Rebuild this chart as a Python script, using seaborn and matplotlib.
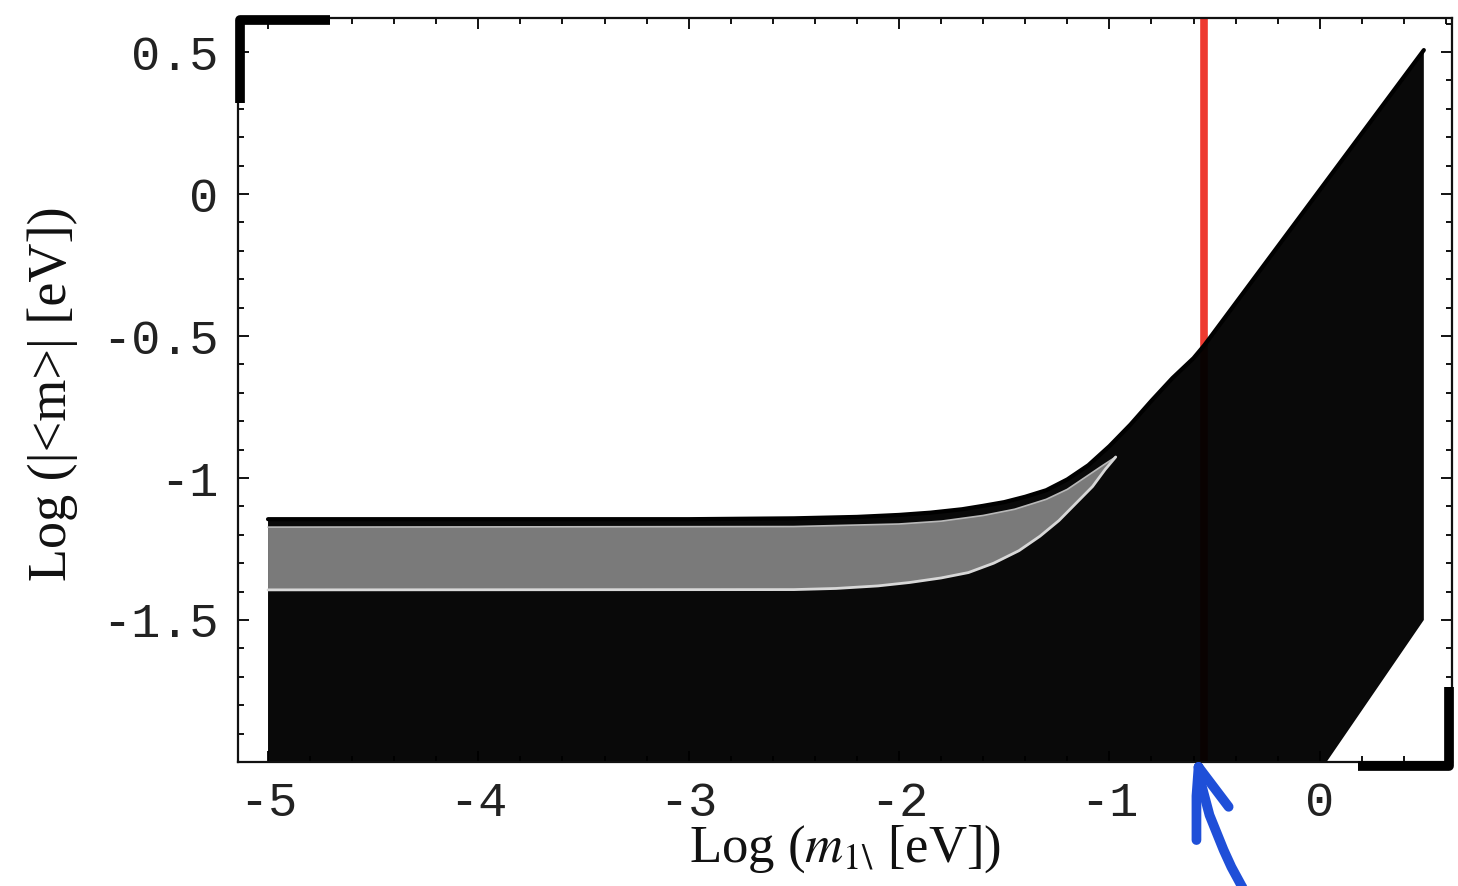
"""
Effective Majorana mass vs lightest neutrino mass (scanned figure look-alike).

Outputs:
  out.png
"""

import matplotlib

matplotlib.use("Agg")
import matplotlib.pyplot as plt
import numpy as np
import pandas as pd
import seaborn as sns

# outer boundary of the allowed (black) region
UPPER_X = [-5.0, -3.0, -2.5, -2.2, -2.0, -1.85, -1.7, -1.6, -1.5, -1.4, -1.3, -1.2,
           -1.1, -1.0, -0.9, -0.8, -0.7, -0.6, -0.548, 0.0, 0.495]
UPPER_Y = [-1.145, -1.145, -1.142, -1.137, -1.13, -1.122, -1.11, -1.098, -1.085, -1.066,
           -1.043, -1.005, -0.955, -0.888, -0.812, -0.728, -0.648, -0.578, -0.532, 0.014, 0.507]
RIGHT_EDGE_X = [0.495, 0.495]
RIGHT_EDGE_Y = [0.507, -1.5]
LOWER_X = [0.495, -0.06, -5.0]
LOWER_Y = [-1.5, -2.1, -2.1]

# grey band inside the black region
BAND_TOP_X = [-5.0, -2.5, -2.0, -1.8, -1.6, -1.45, -1.3, -1.2, -1.1, -1.03, -0.97]
BAND_TOP_Y = [-1.173, -1.171, -1.162, -1.152, -1.132, -1.11, -1.075, -1.04, -0.99, -0.955, -0.926]
BAND_BOT_X = [-5.0, -2.5, -2.3, -2.1, -1.95, -1.8, -1.67, -1.55, -1.43, -1.33, -1.24,
              -1.16, -1.08, -1.02, -0.97]
BAND_BOT_Y = [-1.394, -1.393, -1.389, -1.380, -1.368, -1.352, -1.333, -1.300, -1.256,
              -1.205, -1.150, -1.090, -1.030, -0.970, -0.926]

RED_LINE_X = -0.548

XTICKS = [-5, -4, -3, -2, -1, 0]
XTICK_LABELS = ["-5", "-4", "-3", "-2", "-1", "0"]
YTICKS = [-1.5, -1.0, -0.5, 0.0, 0.5]
YTICK_LABELS = ["-1.5", "-1", "-0.5", "0", "0.5"]
XLIM = (-5.143, 0.629)
YLIM = (-2.0, 0.62)

# hand-drawn blue arrow under the red line (data coords)
ARROW_SHAFT_X = [-0.35, -0.371, -0.42, -0.457, -0.524, -0.562, -0.576]
ARROW_SHAFT_Y = [-2.46, -2.437, -2.37, -2.310, -2.187, -2.081, -2.018]
ARROW_BARB_R_X = [-0.576, -0.433]
ARROW_BARB_R_Y = [-2.018, -2.158]
ARROW_BARB_L_X = [-0.576, -0.586, -0.586]
ARROW_BARB_L_Y = [-2.018, -2.12, -2.275]

# scanner crop marks (axes fraction)
MARK_TL_X = [0.076, 0.0015, 0.0015]
MARK_TL_Y = [0.997, 0.997, 0.886]
MARK_BR_X = [0.9226, 0.9975, 0.9975]
MARK_BR_Y = [-0.006, -0.006, 0.101]

sns.set_theme(style="ticks")
plt.rcParams["font.family"] = ["Liberation Serif", "DejaVu Serif"]
plt.rcParams["mathtext.fontset"] = "stix"
plt.rcParams["axes.unicode_minus"] = False

fig = plt.figure(figsize=(14.58, 8.86), dpi=100)
ax = fig.add_axes([0.1632, 0.1400, 0.8327, 0.8397])

# red line sits under the black region, which is very slightly see-through
ax.axvline(RED_LINE_X, color="#ee3a30", lw=5.5, zorder=1)

poly_x = UPPER_X + RIGHT_EDGE_X[1:] + LOWER_X[1:]
poly_y = UPPER_Y + RIGHT_EDGE_Y[1:] + LOWER_Y[1:]
ax.fill(poly_x, poly_y, color="#000000", alpha=0.965, lw=0, zorder=2)

edge = pd.DataFrame({"x": UPPER_X, "y": UPPER_Y})
sns.lineplot(data=edge, x="x", y="y", ax=ax, color="#000000", lw=3.0,
             sort=False, estimator=None, zorder=3)

band_x = np.array(BAND_TOP_X + BAND_BOT_X[::-1])
band_y = np.array(BAND_TOP_Y + BAND_BOT_Y[::-1])
ax.fill(band_x, band_y, color="#7a7a7a", lw=0, zorder=4)
ax.plot(BAND_TOP_X, BAND_TOP_Y, color="#b8b8b8", lw=1.2, zorder=5)
ax.plot(BAND_BOT_X, BAND_BOT_Y, color="#d8d8d8", lw=2.0, zorder=5)

ax.set_xlim(*XLIM)
ax.set_ylim(*YLIM)

ax.set_xticks(XTICKS)
ax.set_xticklabels(XTICK_LABELS)
ax.set_yticks(YTICKS)
ax.set_yticklabels(YTICK_LABELS)
ax.set_xticks(np.arange(-5.0, 0.61, 0.2), minor=True)
ax.set_yticks(np.arange(-1.9, 0.61, 0.1), minor=True)
ax.tick_params(which="both", direction="in", top=True, right=True,
               color="black", width=1.3)
ax.tick_params(which="major", length=8)
ax.tick_params(which="minor", length=4)
ax.tick_params(axis="x", which="major", pad=14)
ax.tick_params(axis="y", which="major", pad=14)
for lab in ax.get_xticklabels() + ax.get_yticklabels():
    lab.set_fontfamily(["Liberation Mono", "DejaVu Sans Mono"])
    lab.set_fontsize(35)
    lab.set_color("#222222")

for sp in ax.spines.values():
    sp.set_linewidth(1.6)
    sp.set_color("#111111")

ax.set_xlabel(r"Log ($m_{1\backslash}$ [eV])", fontsize=38, color="#111111")
ax.set_ylabel("Log (|<m>| [eV])", fontsize=39, color="#111111")
ax.xaxis.set_label_coords(0.5, -0.083)
ax.yaxis.set_label_coords(-0.132, 0.495)

# crop marks from the scan
ax.plot(MARK_TL_X, MARK_TL_Y, transform=ax.transAxes, color="black", lw=7,
        solid_capstyle="butt", clip_on=False, zorder=10)
ax.plot(MARK_BR_X, MARK_BR_Y, transform=ax.transAxes, color="black", lw=7,
        solid_capstyle="butt", clip_on=False, zorder=10)

# hand-drawn arrow
for xs, ys in [(ARROW_SHAFT_X, ARROW_SHAFT_Y), (ARROW_BARB_R_X, ARROW_BARB_R_Y),
               (ARROW_BARB_L_X, ARROW_BARB_L_Y)]:
    ax.plot(xs, ys, color="#1f4fd8", lw=7, solid_capstyle="round",
            clip_on=False, zorder=11)

fig.savefig("out.png", dpi=100, facecolor="white")
plt.close(fig)
